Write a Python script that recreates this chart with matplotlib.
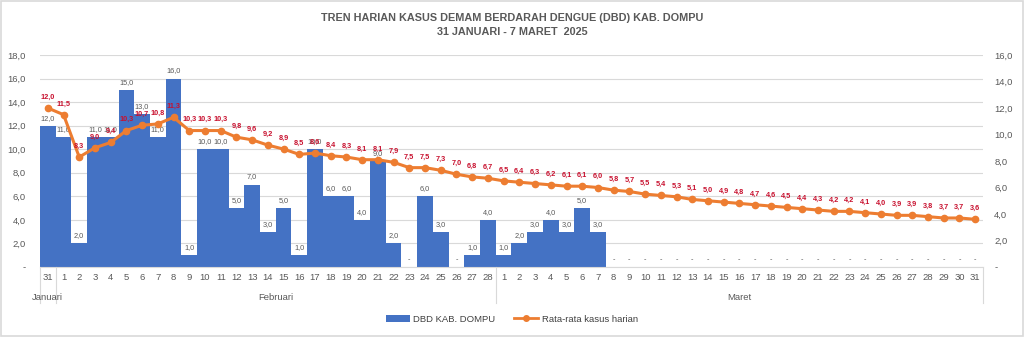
import matplotlib
matplotlib.use("Agg")
import matplotlib.pyplot as plt
import matplotlib.transforms as mtransforms
from matplotlib.lines import Line2D
from matplotlib.patches import Patch, Rectangle

plt.rcParams['font.family'] = ['Liberation Sans', 'DejaVu Sans']

# ---- data ----
days = ["31"] + [str(d) for d in range(1, 29)] + [str(d) for d in range(1, 32)]
months = ["Januari", "Februari", "Maret"]
month_spans = [(0, 0), (1, 28), (29, 59)]

cases = [12, 11, 2, 11, 11, 15, 13, 11, 16, 1, 10, 10, 5, 7, 3, 5, 1, 10, 6, 6, 4, 9, 2, 0,
         6, 3, 0, 1, 4,
         1, 2, 3, 4, 3, 5, 3] + [0] * 24

avg = [12.0, 11.5, 8.3, 9.0, 9.4, 10.3, 10.7, 10.8, 11.3, 10.3, 10.3, 10.3, 9.8, 9.6, 9.2,
       8.9, 8.5, 8.6, 8.4, 8.3, 8.1, 8.1, 7.9, 7.5, 7.5, 7.3, 7.0, 6.8, 6.7,
       6.5, 6.4, 6.3, 6.2, 6.1, 6.1, 6.0, 5.8, 5.7, 5.5, 5.4, 5.3, 5.1, 5.0, 4.9, 4.8,
       4.7, 4.6, 4.5, 4.4, 4.3, 4.2, 4.2, 4.1, 4.0, 3.9, 3.9, 3.8, 3.7, 3.7, 3.6]

title = "TREN HARIAN KASUS DEMAM BERDARAH DENGUE (DBD) KAB. DOMPU\n31 JANUARI - 7 MARET  2025"
bar_label = "DBD KAB. DOMPU"
line_label = "Rata-rata kasus harian"

BLUE = "#4472C4"
ORANGE = "#ED7D31"
RED = "#C8102E"
GRAY = "#595959"

def fmt(v):
    return "-" if v == 0 else f"{v:.1f}".replace(".", ",")

fig = plt.figure(figsize=(10.24, 3.37), dpi=100)
fig.patches.append(Rectangle((0.001, 0.002), 0.998, 0.996, transform=fig.transFigure,
                             fill=False, edgecolor="#D9D9D9", linewidth=1.2))
ax = fig.add_axes([0.039, 0.2077, 0.921, 0.629])
ax2 = ax.twinx()

x = list(range(len(days)))
ax.bar(x, cases, width=1.0, color=BLUE, zorder=2)
ax2.plot(x, avg, color=ORANGE, linewidth=2.2, marker="o", markersize=4.5, zorder=3)

ax.set_xlim(-0.5, len(days) - 0.5)
ax.set_ylim(0, 18)
ax2.set_ylim(0, 16)
ax.set_yticks(range(0, 19, 2))
ax.set_yticklabels([fmt(v) for v in range(0, 19, 2)])
ax2.set_yticks(range(0, 17, 2))
ax2.set_yticklabels([fmt(v) for v in range(0, 17, 2)])
ax.grid(axis="y", color="#D9D9D9", linewidth=0.8, zorder=0)
ax.set_axisbelow(True)

for a in (ax, ax2):
    for s in a.spines.values():
        s.set_visible(False)
    a.tick_params(axis="y", length=0, labelsize=6.8, labelcolor=GRAY)
ax.tick_params(axis="y", pad=10)
ax2.tick_params(axis="y", pad=8)

ax.set_xticks(x)
ax.set_xticklabels(days)
ax.tick_params(axis="x", length=0, labelsize=6.8, labelcolor=GRAY, pad=4)
ax.spines["bottom"].set_visible(True)
ax.spines["bottom"].set_color("#D9D9D9")

# month separators and labels
trans = mtransforms.blended_transform_factory(ax.transData, ax.transAxes)
for xb in [-0.5, 0.5, 28.5, 59.5]:
    ax.plot([xb, xb], [0, -0.17], color="#D9D9D9", linewidth=0.8, transform=trans, clip_on=False)
for m, (a0, a1) in zip(months, month_spans):
    ax.text((a0 + a1) / 2, -0.145, m, transform=trans, ha="center", va="center",
            fontsize=6.8, color=GRAY)

# bar value labels
for xi, v in zip(x, cases):
    ax.text(xi, v + 0.35, fmt(v), ha="center", va="bottom", fontsize=5.3, color=GRAY, zorder=5)

# line value labels
for xi, v in zip(x, avg):
    ax2.text(xi, v + 0.55, fmt(v), ha="center", va="bottom", fontsize=5.3, color=RED,
             fontweight="semibold", zorder=5)

fig.text(0.5, 0.925, title, ha="center", va="center", fontsize=7.8, fontweight="bold",
         color=GRAY, linespacing=1.5)

handles = [Patch(facecolor=BLUE, label=bar_label),
           Line2D([0], [0], color=ORANGE, linewidth=2, marker="o", markersize=4, label=line_label)]
fig.legend(handles=handles, loc="center", bbox_to_anchor=(0.5, 0.053), ncol=2, frameon=False,
           fontsize=6.8, handlelength=2.5, columnspacing=2.0, handletextpad=0.4,
           labelcolor="#404040")

fig.savefig("out.png", dpi=100)
